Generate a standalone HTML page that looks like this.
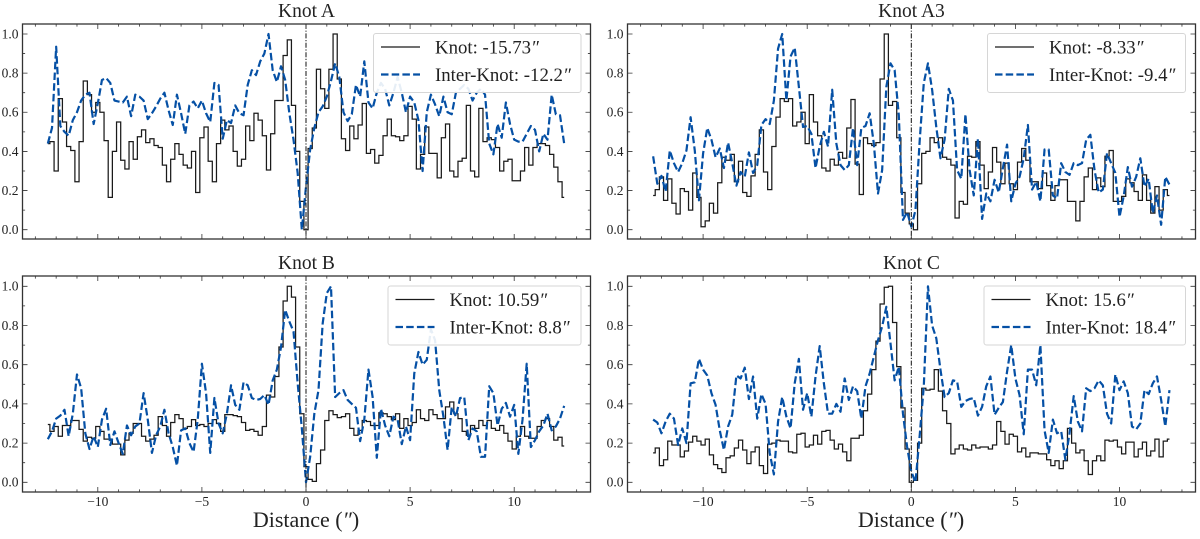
<!DOCTYPE html>
<html>
<head>
<meta charset="utf-8">
<title>Knot profiles</title>
<style>
html,body{margin:0;padding:0;background:#fff;}
svg{display:block;font-family:"Liberation Serif",serif;}
</style>
</head>
<body>
<svg id="chart" width="1200" height="539" viewBox="0 0 1200 539" xmlns="http://www.w3.org/2000/svg">
<text x="306" y="527" text-anchor="middle" font-size="22" fill="#222">Distance (<tspan font-style="italic">″</tspan>)</text>
<text x="911" y="527" text-anchor="middle" font-size="22" fill="#222">Distance (<tspan font-style="italic">″</tspan>)</text>
</svg>
<script>
const distance = [-12.4,-12.2,-12,-11.8,-11.6,-11.4,-11.2,-11,-10.8,-10.6,-10.4,-10.2,-10,-9.8,-9.6,-9.4,-9.2,-9,-8.8,-8.6,-8.4,-8.2,-8,-7.8,-7.6,-7.4,-7.2,-7,-6.8,-6.6,-6.4,-6.2,-6,-5.8,-5.6,-5.4,-5.2,-5,-4.8,-4.6,-4.4,-4.2,-4,-3.8,-3.6,-3.4,-3.2,-3,-2.8,-2.6,-2.4,-2.2,-2,-1.8,-1.6,-1.4,-1.2,-1,-0.8,-0.6,-0.4,-0.2,0,
0.2,0.4,0.6,0.8,1,1.2,1.4,1.6,1.8,2,2.2,2.4,2.6,2.8,3,3.2,3.4,3.6,3.8,4,4.2,4.4,4.6,4.8,5,5.2,5.4,5.6,5.8,6,6.2,6.4,6.6,6.8,7,7.2,7.4,7.6,7.8,8,8.2,8.4,8.6,8.8,9,9.2,9.4,9.6,9.8,10,10.2,10.4,10.6,10.8,11,11.2,11.4,11.6,11.8,12,12.2,12.4];

const knotA = [.44,.45,.30,.67,.55,.425,.405,.245,.45,.76,.69,.60,.65,.60,.455,.165,.40,.55,.355,.31,.45,.36,.475,.51,.445,.465,.43,.42,.33,.245,.36,.44,.385,.33,.315,.40,.19,.47,.525,.35,.245,.44,.56,.51,.53,.40,.325,.36,.53,.455,.595,.56,.48,.305,.49,.66,.66,.89,.97,.635,.40,.145,.00,
.415,.52,.82,.72,.62,.82,1.0,.77,.465,.405,.53,.465,.535,.645,.39,.41,.34,.38,.48,.565,.48,.475,.455,.48,.63,.565,.31,.385,.525,.39,.39,.265,.47,.54,.30,.27,.35,.365,.635,.30,.27,.62,.45,.47,.46,.42,.30,.35,.36,.25,.25,.30,.42,.33,.42,.44,.44,.43,.385,.32,.245,.165];
const interA = [.44,.52,.935,.53,.50,.48,.56,.60,.66,.69,.70,.54,.645,.765,.775,.75,.66,.655,.65,.68,.58,.69,.68,.66,.565,.595,.63,.67,.70,.61,.535,.69,.595,.49,.635,.655,.62,.66,.595,.55,.75,.74,.465,.56,.545,.635,.595,.585,.74,.815,.79,.86,.90,1.0,.815,.755,.835,.765,.595,.46,.29,.0,.22,
.41,.52,.60,.63,.68,.76,.85,.78,.60,.555,.59,.74,.68,.86,.65,.62,.70,.75,.72,.635,.70,.78,.70,.60,.68,.65,.56,.30,.60,.69,.64,.58,.68,.60,.59,.70,.72,.74,.72,.66,.70,.72,.69,.44,.385,.54,.47,.65,.54,.46,.45,.45,.49,.53,.51,.40,.49,.46,.69,.59,.585,.44];

const knotA3 = [.175,.205,.27,.15,.26,.135,.08,.21,.195,.10,.29,.165,.015,.045,.135,.085,.24,.37,.355,.385,.245,.35,.19,.17,.275,.385,.51,.295,.205,.425,.575,.67,.655,.67,.53,.55,.60,.44,.69,.55,.48,.315,.30,.36,.33,.395,.365,.52,.665,.335,.18,.47,.44,.43,.445,.77,1.0,.635,.655,.47,.19,.085,.03,
0,.235,.39,.40,.47,.445,.47,.37,.36,.33,.06,.145,.13,.375,.37,.45,.33,.21,.295,.42,.345,.235,.34,.235,.205,.345,.415,.355,.245,.245,.21,.29,.225,.15,.225,.255,.255,.145,.145,.045,.145,.27,.315,.205,.265,.22,.375,.405,.145,.145,.17,.26,.24,.195,.15,.28,.15,.085,.22,.10,.205,.175];
const interA3 = [.375,.235,.275,.195,.405,.34,.295,.34,.405,.575,.405,.15,.39,.52,.46,.37,.415,.315,.445,.34,.225,.295,.27,.395,.29,.33,.535,.565,.54,.66,.925,1.0,.66,.885,.93,.73,.525,.53,.49,.315,.425,.50,.425,.715,.44,.33,.305,.33,.52,.33,.52,.53,.595,.44,.185,.305,.73,.85,.815,.585,.05,.09,.015,
.10,.45,.75,.85,.715,.525,.365,.46,.72,.66,.305,.26,.59,.305,.175,.465,.055,.185,.145,.255,.19,.315,.435,.145,.235,.27,.365,.535,.205,.245,.145,.41,.41,.175,.16,.34,.295,.28,.34,.33,.34,.46,.485,.305,.19,.205,.39,.34,.29,.065,.17,.32,.22,.27,.365,.22,.26,.085,.175,.025,.27,.23];

const knotB = [.295,.26,.285,.235,.29,.29,.315,.315,.27,.21,.23,.225,.285,.26,.22,.22,.195,.195,.14,.215,.25,.30,.30,.235,.21,.22,.24,.335,.29,.235,.305,.345,.325,.275,.285,.32,.29,.295,.285,.30,.32,.30,.26,.345,.345,.34,.335,.305,.265,.27,.26,.24,.285,.445,.435,.54,.69,.925,1.0,.945,.69,.35,.08,
.015,.005,.095,.165,.315,.365,.345,.33,.335,.35,.275,.24,.265,.315,.31,.29,.29,.355,.35,.335,.32,.35,.275,.325,.29,.305,.37,.325,.315,.37,.345,.325,.325,.385,.41,.35,.325,.26,.24,.29,.275,.315,.29,.315,.275,.265,.29,.25,.21,.17,.235,.285,.235,.225,.225,.285,.315,.325,.285,.215,.23,.185];
const interB = [.22,.26,.325,.34,.37,.235,.35,.55,.48,.25,.17,.235,.18,.32,.375,.19,.26,.20,.145,.29,.24,.285,.30,.455,.32,.15,.24,.285,.37,.25,.18,.085,.265,.275,.20,.155,.32,.605,.455,.15,.43,.30,.25,.35,.495,.395,.37,.51,.495,.43,.42,.425,.445,.395,.52,.575,.69,.88,.82,.77,.505,.275,.0,
.13,.35,.47,.81,.965,1.0,.435,.455,.47,.42,.40,.38,.21,.32,.575,.435,.125,.375,.29,.235,.335,.32,.195,.285,.215,.555,.665,.60,.625,.78,.725,.47,.335,.165,.385,.335,.43,.435,.215,.275,.26,.13,.13,.49,.455,.29,.375,.405,.335,.395,.145,.32,.605,.18,.215,.26,.29,.35,.265,.285,.325,.39];

const knotC = [.15,.175,.085,.115,.21,.19,.19,.13,.16,.205,.235,.21,.19,.22,.14,.09,.07,.05,.125,.135,.175,.215,.165,.095,.155,.18,.085,.045,.195,.20,.215,.21,.21,.155,.15,.245,.25,.18,.19,.24,.195,.26,.265,.215,.17,.195,.155,.11,.225,.225,.24,.365,.45,.575,.72,.91,.995,1.0,.815,.59,.38,.17,.0,
.01,.20,.48,.47,.475,.575,.465,.365,.30,.145,.17,.19,.17,.165,.19,.175,.18,.18,.17,.19,.31,.26,.195,.245,.235,.155,.175,.13,.15,.15,.145,.145,.115,.085,.11,.07,.11,.275,.20,.15,.165,.11,.04,.11,.135,.11,.215,.21,.215,.18,.145,.205,.205,.13,.17,.205,.135,.16,.22,.13,.21,.22];
const interC = [.32,.305,.25,.31,.35,.325,.19,.275,.20,.505,.51,.63,.575,.545,.455,.395,.265,.165,.285,.345,.545,.53,.585,.425,.54,.325,.45,.40,.15,.04,.31,.435,.335,.275,.505,.63,.37,.455,.335,.54,.695,.505,.35,.35,.40,.36,.53,.42,.49,.465,.325,.49,.555,.64,.725,.795,.895,.71,.52,.59,.35,.18,.055,
.0,.235,.49,1.0,.80,.735,.575,.435,.455,.52,.515,.385,.415,.425,.43,.34,.385,.49,.54,.345,.38,.41,.565,.70,.53,.445,.245,.575,.575,.495,.70,.265,.15,.32,.25,.26,.115,.25,.44,.31,.26,.48,.465,.48,.52,.495,.35,.30,.55,.47,.515,.455,.285,.27,.30,.47,.45,.505,.54,.42,.285,.47];

const panelTitles = ["Knot A","Knot A3","Knot B","Knot C"];
const knotLabels = ["Knot: -15.73","Knot: -8.33","Knot: 10.59","Knot: 15.6"];
const interLabels = ["Inter-Knot: -12.2","Inter-Knot: -9.4","Inter-Knot: 8.8","Inter-Knot: 18.4"];
const knotSeries = [knotA,knotA3,knotB,knotC];
const interSeries = [interA,interA3,interB,interC];
const xMajorTicks = [-10,-5,0,5,10];
const xMinorTicks = [-13,-12,-11,-9,-8,-7,-6,-4,-3,-2,-1,1,2,3,4,6,7,8,9,11,12,13];
const yMajorTicks = [0,0.2,0.4,0.6,0.8,1.0];
const yMinorTicks = [0.1,0.3,0.5,0.7,0.9];

const NS = "http://www.w3.org/2000/svg";
const svg = document.getElementById("chart");
const layouts = [
  {left:22.5,right:590.5,top:24,bottom:239,x0:306,y1:34,y0:229.7,lx:373.5,lw:207.5,ly:33.5,lh:59,labels:false},
  {left:627.5,right:1195.5,top:24,bottom:239,x0:911.3,y1:34,y0:229.7,lx:987.5,lw:198,ly:33.5,lh:59,labels:false},
  {left:22.5,right:590.5,top:276,bottom:492,x0:306,y1:286.3,y0:482.3,lx:388,lw:193,ly:286,lh:59,labels:true},
  {left:627.5,right:1195.5,top:276,bottom:492,x0:911.3,y1:286.3,y0:482.3,lx:984,lw:201.5,ly:286,lh:59,labels:true}
];
const PXU = 20.82;

function mk(parent, tag, attrs){
  const e = document.createElementNS(NS, tag);
  for (const k in attrs) e.setAttribute(k, attrs[k]);
  parent.appendChild(e);
  return e;
}

layouts.forEach(function(L, p){
  const sx = function(d){ return L.x0 + d * PXU; };
  const sy = function(v){ return L.y0 + (L.y1 - L.y0) * v; };

  const g = mk(svg, "g", {});
  
  

  const t = mk(g, "text", {x:(L.left+L.right)/2, y:L.top-7, "text-anchor":"middle", "font-size":19.5, fill:"#222"});
  t.textContent = panelTitles[p];
  
  

  // knot series as mid-step histogram
  const k = knotSeries[p];
  let d = "M" + sx(distance[0]).toFixed(2) + " " + sy(k[0]).toFixed(2);
  for (let i = 1; i < k.length; i++){
    const mid = sx((distance[i-1] + distance[i]) / 2).toFixed(2);
    d += "L" + mid + " " + sy(k[i-1]).toFixed(2) + "L" + mid + " " + sy(k[i]).toFixed(2);
  }
  d += "L" + sx(distance[k.length-1]).toFixed(2) + " " + sy(k[k.length-1]).toFixed(2);
  const kp = mk(g, "path", {d:d, fill:"none", stroke:"#1a1a1a", "stroke-width":1.25, "stroke-linejoin":"miter"});
  
  

  // inter-knot series
  const ik = interSeries[p];
  const pts = ik.map(function(v, i){ return sx(distance[i]).toFixed(2) + "," + sy(v).toFixed(2); }).join(" ");
  const ip = mk(g, "polyline", {points:pts, fill:"none", stroke:"#0550A5", "stroke-width":2.2, "stroke-dasharray":"7.5 3.2", "stroke-linejoin":"round"});
  
  

  // reference line at zero
  const zl = mk(g, "line", {x1:sx(0), x2:sx(0), y1:L.top, y2:L.bottom, stroke:"#111", "stroke-width":1, "stroke-dasharray":"5 1.6 1.2 1.6"});
  
  

  // ticks
  const tp = [];
  xMajorTicks.forEach(function(v){ const x=sx(v); tp.push("M"+x+" "+L.bottom+"v-5M"+x+" "+L.top+"v5"); });
  xMinorTicks.forEach(function(v){ const x=sx(v); tp.push("M"+x+" "+L.bottom+"v-2.6M"+x+" "+L.top+"v2.6"); });
  yMajorTicks.forEach(function(v){ const y=sy(v); tp.push("M"+L.left+" "+y+"h5M"+L.right+" "+y+"h-5"); });
  yMinorTicks.forEach(function(v){ const y=sy(v); tp.push("M"+L.left+" "+y+"h2.6M"+L.right+" "+y+"h-2.6"); });
  const tk = mk(g, "path", {d:tp.join(""), fill:"none", stroke:"#333", "stroke-width":0.8});
  
  

  // frame
  const fr = mk(g, "rect", {x:L.left, y:L.top, width:L.right-L.left, height:L.bottom-L.top, fill:"none", stroke:"#333", "stroke-width":1.3});
  
  

  // y labels
  yMajorTicks.forEach(function(v){
    const yl = mk(g, "text", {x:L.left-4, y:sy(v)+4.4, "text-anchor":"end", "font-size":13.5, fill:"#222"});
    yl.textContent = v.toFixed(1);
    
    
  });

  // x labels
  if (L.labels){
    xMajorTicks.forEach(function(v){
      const xl = mk(g, "text", {x:sx(v), y:L.bottom+14, "text-anchor":"middle", "font-size":13.5, fill:"#222"});
      xl.textContent = (v < 0 ? "\u2212" : "") + Math.abs(v);
      
      
    });
  }

  // legend
  const lg = mk(g, "g", {});
  
  
  mk(lg, "rect", {x:L.lx, y:L.ly, width:L.lw, height:L.lh, rx:2.5, fill:"#fff", "fill-opacity":0.9, stroke:"#d6d6d6", "stroke-width":1});
  const hx = L.lx + 7.5;
  const tx = L.lx + 61.5;
  const y1 = L.ly + 13.5;
  const y2 = L.ly + 41;
  const h1 = mk(lg, "line", {x1:hx, x2:hx+39, y1:y1, y2:y1, stroke:"#1a1a1a", "stroke-width":1.25});
  
  
  const h2 = mk(lg, "line", {x1:hx, x2:hx+39, y1:y2, y2:y2, stroke:"#0550A5", "stroke-width":2.2, "stroke-dasharray":"7.5 3.2"});
  
  
  [[knotLabels[p], y1+6.5, 'legend-knot-label'], [interLabels[p], y2+6.5, 'legend-inter-knot-label']].forEach(function(r){
    const lt = mk(lg, "text", {x:tx, y:r[1], "font-size":18.8, fill:"#222"});
    lt.textContent = r[0];
    const sp = mk(lt, "tspan", {"font-style":"italic"});
    sp.textContent = "″";
    
    
  });
});
</script>
</body>
</html>
